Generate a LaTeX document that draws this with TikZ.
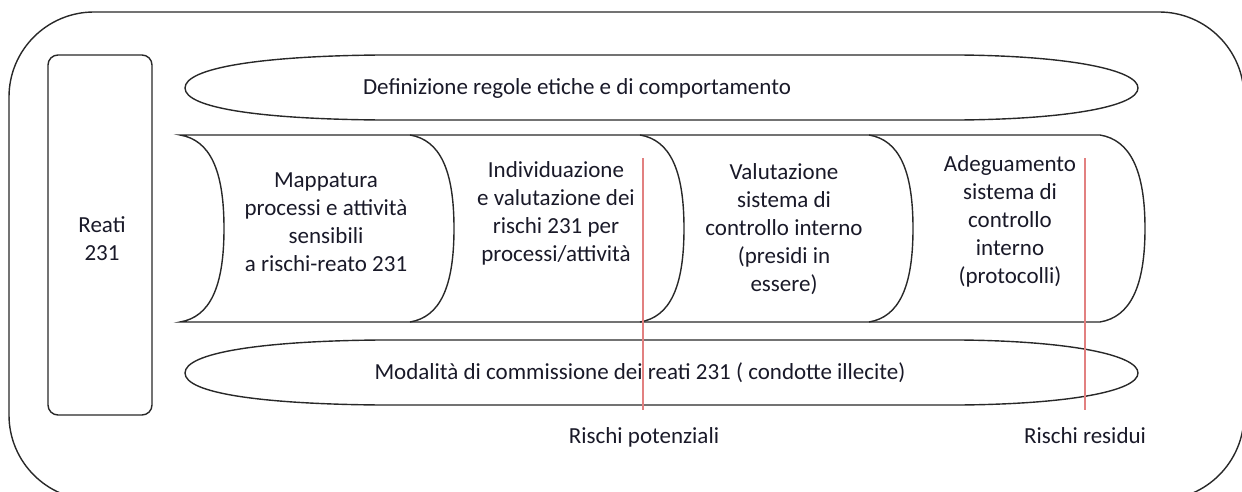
\documentclass[tikz,border=0pt]{standalone}
\usepackage{fontspec}
\setmainfont{Carlito}
\definecolor{riskred}{RGB}{226,128,128}
\definecolor{ink}{RGB}{40,40,40}
\definecolor{txt}{RGB}{25,25,40}
\begin{document}
\begin{tikzpicture}[x=1pt,y=-1pt,
  shapeline/.style={draw=ink, line width=1.4pt},
  lbl/.style={font=\fontsize{23}{28}\selectfont, text=txt, align=center, inner sep=0pt},
  riskline/.style={draw=riskred, line width=1.1pt}]
\useasboundingbox (0,0) rectangle (1242,492);
% outer frame
\begin{scope}
  \clip (0,0) rectangle (1242,492);
  \draw[shapeline, rounded corners=85pt] (9,12) rectangle (1244,500);
\end{scope}
% Reati box
\node[shapeline, rounded corners=10pt, minimum width=104pt, minimum height=360pt, inner sep=0pt] (reatibox) at (100,235) {};
\node[lbl] (reati) at (102,239) {Reati\\231};
% top flat ellipse
\draw[shapeline] (185,88) .. controls (185,68) and (260,56) .. (380,55) -- (960,55)
  .. controls (1070,56) and (1138,70) .. (1138,88)
  .. controls (1138,106) and (1070,119) .. (960,120) -- (380,120)
  .. controls (260,119) and (185,108) .. (185,88) -- cycle;
% bottom flat ellipse
\draw[shapeline] (185,373) .. controls (185,353) and (260,341) .. (380,340) -- (960,340)
  .. controls (1070,341) and (1138,355) .. (1138,373)
  .. controls (1138,391) and (1070,404) .. (960,405) -- (380,405)
  .. controls (260,404) and (185,393) .. (185,373) -- cycle;
% band
\draw[shapeline] (180,135) -- (1100,135)
  .. controls (1130,140) and (1145,170) .. (1145,228.5)
  .. controls (1145,287) and (1130,317) .. (1100,322) -- (180,322)
  .. controls (210,317) and (224,287) .. (224,228.5)
  .. controls (224,170) and (210,140) .. (180,135) -- cycle;
\foreach \x in {410,640,869}{
  \draw[shapeline] (\x,135) .. controls (\x+30,140) and (\x+44,170) .. (\x+44,228.5)
    .. controls (\x+44,287) and (\x+30,317) .. (\x,322);
}
% red lines
\coordinate (potTop) at (643,158);
\coordinate (potBot) at (643,410);
\coordinate (resTop) at (1085,158);
\coordinate (resBot) at (1085,410);
\draw[riskline] (potTop) -- (potBot);
\draw[riskline] (resTop) -- (resBot);
% texts
\node[lbl, anchor=base] (def) at (577,95) {Definizione regole etiche e di comportamento};
\node[lbl, anchor=base] (mod) at (640,379) {Modalità di commissione dei reati 231 ( condotte illecite)};
\node[lbl] (map) at (326,222.5) {Mappatura\\processi e attività\\sensibili\\a rischi-reato 231};
\node[lbl] (ind) at (556,213) {Individuazione\\e valutazione dei\\rischi 231 per\\processi/attività};
\node[lbl] (val) at (784,229) {Valutazione\\sistema di\\controllo interno\\(presidi in\\essere)};
\node[lbl] (ade) at (1010,221) {Adeguamento\\sistema di\\controllo\\interno\\(protocolli)};
\node[lbl, anchor=base] (rpot) at (644,443) {Rischi potenziali};
\node[lbl, anchor=base] (rres) at (1085,443) {Rischi residui};
\end{tikzpicture}
\end{document}
